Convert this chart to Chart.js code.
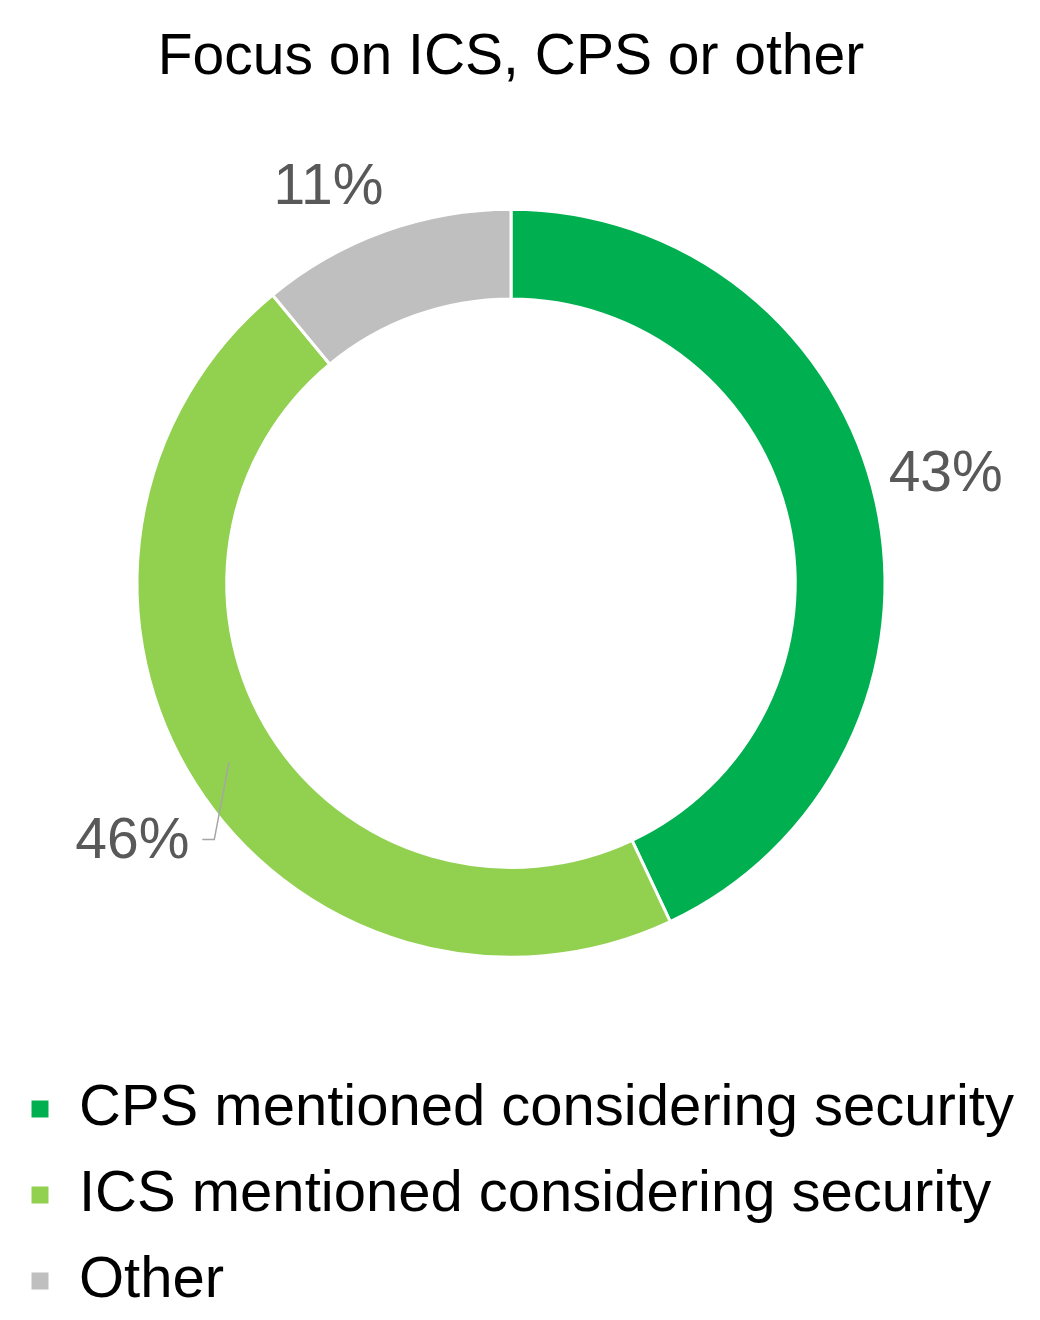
<!DOCTYPE html>
<html><head><meta charset="utf-8">
<script src="https://cdn.jsdelivr.net/npm/chart.js@4"></script>
<style>body{margin:0;background:#fff}#wrap{width:1040px;height:1320px}</style>
</head><body><div id="wrap"><canvas id="c"></canvas></div>
<script>
const LABELS = ["CPS mentioned considering security", "ICS mentioned considering security", "Other"];
const VALUES = [43, 46, 11];
const COLORS = ["#00B050", "#92D050", "#BFBFBF"];
const FONT = "'Liberation Sans', Arial, sans-serif";

// percent labels outside the ring, with a small leader for the big slice
const outLabels = {
  id: "outLabels",
  afterDatasetsDraw(chart) {
    const ctx = chart.ctx;
    const meta = chart.getDatasetMeta(0);
    ctx.save();
    ctx.font = "57px " + FONT;
    ctx.fillStyle = "#595959";
    ctx.textAlign = "center";
    ctx.textBaseline = "middle";
    const shift = [-1.4, -2, -5];   // degrees nudge per slice
    const gap = [74, 85, 61];
    meta.data.forEach((arc, i) => {
      const midRaw = (arc.startAngle + arc.endAngle) / 2;
      const mid = midRaw + shift[i] * Math.PI / 180;
      const r = arc.outerRadius + gap[i];
      const x = arc.x + Math.cos(mid) * r;
      const y = arc.y + Math.sin(mid) * r;
      ctx.fillText(VALUES[i] + "%", x, y);
      if (i === 1) {
        ctx.strokeStyle = "#A6A6A6";
        ctx.lineWidth = 1.5;
        const ix = arc.x + Math.cos(midRaw) * (arc.outerRadius - 40);
        const iy = arc.y + Math.sin(midRaw) * (arc.outerRadius - 40);
        ctx.beginPath();
        ctx.moveTo(ix, iy);
        ctx.lineTo(x + 82, y - 3);
        ctx.lineTo(x + 70, y - 3);
        ctx.stroke();
      }
    });
    ctx.restore();
  }
};

new Chart(document.getElementById("c"), {
  type: "doughnut",
  data: {
    labels: LABELS,
    datasets: [{
      data: VALUES,
      backgroundColor: COLORS,
      borderColor: "#fff",
      borderWidth: 3
    }]
  },
  options: {
    responsive: true,
    maintainAspectRatio: false,
    animation: false,
    radius: 374,
    cutout: "76%",
    layout: { padding: { top: 0, bottom: 0, left: 2, right: 20 } },
    plugins: {
      title: {
        display: true,
        text: "Focus on ICS, CPS or other",
        color: "#000",
        font: { family: FONT, size: 57, weight: "normal" },
        padding: { top: 24, bottom: 22 }
      },
      legend: {
        position: "bottom",
        align: "start",
        labels: {
          color: "#000",
          font: { family: FONT, size: 58 },
          boxWidth: 20,
          boxHeight: 20,
          padding: 28
        }
      },
      tooltip: { enabled: false }
    }
  },
  plugins: [outLabels]
});
</script></body></html>
